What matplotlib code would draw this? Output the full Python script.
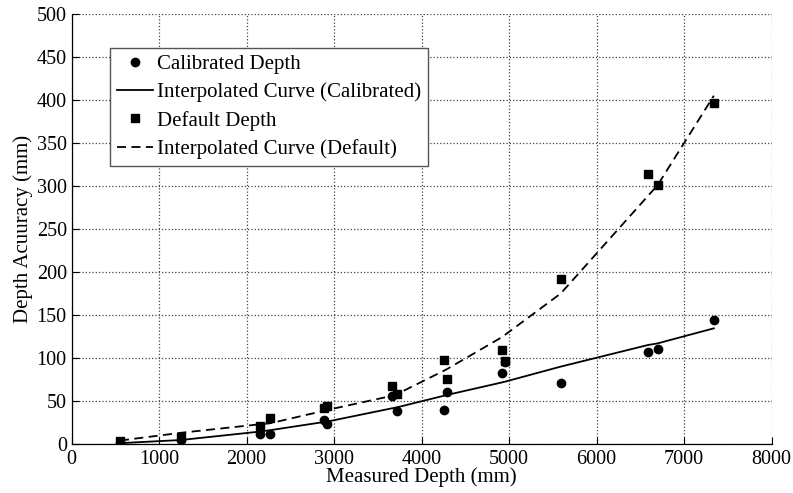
import matplotlib.pyplot as plt

# measured depths (mm), shared by both series
measured = [552, 1245, 2158, 2264, 2880, 2918, 3661, 3718, 4250, 4288,
            4914, 4954, 5590, 6583, 6697, 7340]

# depth accuracy (mm)
calibrated = [1.5, 4.6, 11.2, 11.2, 28, 23, 56, 38, 39, 61,
              82, 95, 71, 107, 110, 144]
default = [3.8, 8.5, 21, 30, 41.5, 44, 67, 58, 98, 76,
           109, 97, 192, 314, 301, 397]

# interpolated curves, read at the same depths
calibrated_curve = [1, 4.6, 14.5, 16, 25.5, 26, 41.5, 42.6, 56, 57,
                    71.5, 72.5, 90, 115, 117, 134.5]
default_curve = [4, 13, 23, 24, 38.5, 39.5, 56, 58, 85, 87,
                 124, 127, 175, 288, 301, 405]

plt.rcParams['font.family'] = ['Liberation Serif', 'DejaVu Serif']
plt.rcParams['font.size'] = 15

fig = plt.figure(figsize=(7.93, 4.93), dpi=100)
ax = fig.add_axes([0.0904, 0.0994, 0.8826, 0.8722])

ax.plot(measured, calibrated, 'o', color='black', markersize=6,
        label='Calibrated Depth')
ax.plot(measured, calibrated_curve, '-', color='black', linewidth=1.3,
        label='Interpolated Curve (Calibrated)')
ax.plot(measured, default, 's', color='black', markersize=6.3,
        label='Default Depth')
ax.plot(measured, default_curve, '--', color='black', linewidth=1.3,
        dashes=(5, 3), label='Interpolated Curve (Default)')

ax.set_xlim(0, 8000)
ax.set_ylim(0, 500)
ax.set_xticks(range(0, 8001, 1000))
ax.set_yticks(range(0, 501, 50))
ax.grid(True, linestyle=':', color='#444444', linewidth=0.9)
ax.tick_params(direction='in', length=5, width=0.8, labelsize=14.5)
ax.tick_params(axis='y', pad=3.5)
ax.tick_params(axis='x', pad=4)
for side in ['top', 'right']:
    ax.spines[side].set_visible(False)
for side in ['left', 'bottom']:
    ax.spines[side].set_linewidth(0.9)

ax.set_xlabel('Measured Depth (mm)', labelpad=-1)
ax.set_ylabel('Depth Acuuracy (mm)', labelpad=3)

leg = ax.legend(loc='upper left', bbox_to_anchor=(0.0547, 0.921),
                fancybox=False, framealpha=1, edgecolor='#555555',
                handlelength=1.75, handletextpad=0.2, labelspacing=0.4,
                borderpad=0.33, borderaxespad=0, fontsize=15)
leg.get_frame().set_linewidth(1.0)

fig.savefig('out.png', dpi=100)
